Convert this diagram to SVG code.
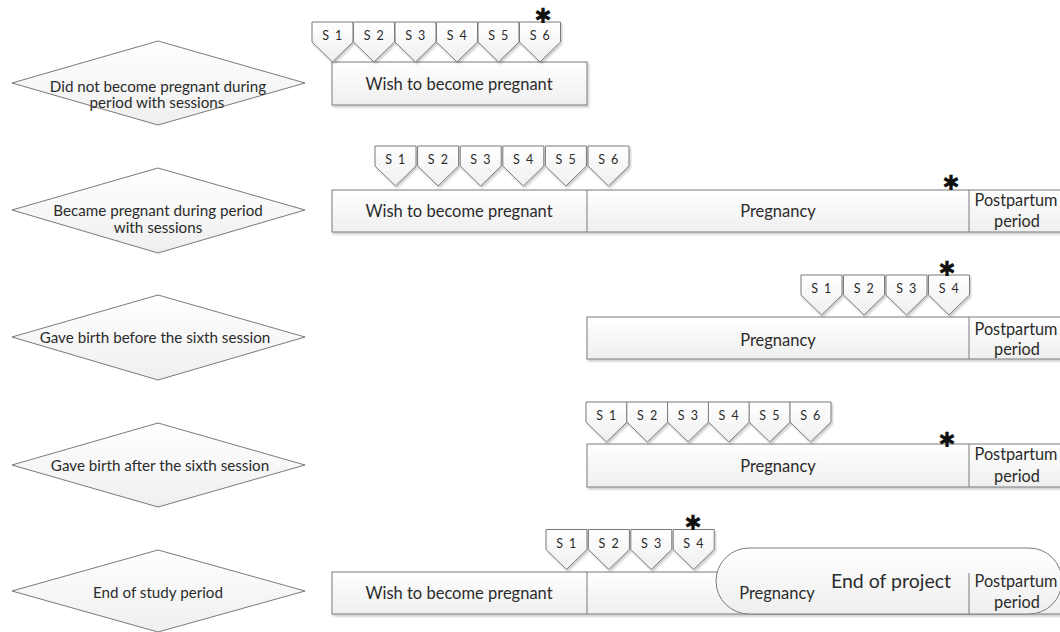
<svg xmlns="http://www.w3.org/2000/svg" xmlns:xlink="http://www.w3.org/1999/xlink" width="1060" height="632" viewBox="0 0 1060 632">
<defs>
<linearGradient id="g" x1="0" y1="0" x2="0" y2="1">
<stop offset="0" stop-color="#ffffff"/>
<stop offset="1" stop-color="#efefef"/>
</linearGradient>
<filter id="sh" x="-5%" y="-10%" width="110%" height="130%">
<feDropShadow dx="1.5" dy="2" stdDeviation="1.2" flood-color="#000" flood-opacity="0.2"/>
</filter>
<path id="pent" d="M0,0 H41 V20 L20.5,40 L0,20 Z"/>
</defs>
<style>
.sh{fill:url(#g);stroke:#7a7a7a;stroke-width:1}
.dv{stroke:#7a7a7a;stroke-width:1;fill:none}
.t{font-family:Lato,"Liberation Sans",sans-serif;fill:#2b2b2b;text-anchor:middle}
.d{font-size:15.2px}
.b{font-size:16.5px}
.p{font-size:16.3px}
.s{font-size:12.5px;letter-spacing:1.5px}
.e{font-size:19.5px}
.ast{font-family:"DejaVu Sans",sans-serif;font-size:21px;font-weight:bold;fill:#111;text-anchor:middle}
</style>
<rect width="1060" height="632" fill="#ffffff"/>

<!-- Row 1 -->
<g id="row1-label">
<polygon class="sh" points="12,83 158,41 305,83 158,125"/>
<text class="t d" x="158" y="92">Did not become pregnant during</text>
<text class="t d" x="157" y="108">period with sessions</text>
</g>
<g id="row1-wish">
<rect class="sh" x="332" y="62" width="255" height="43" filter="url(#sh)"/>
<text class="t b" x="459" y="89.5">Wish to become pregnant</text>
</g>
<g id="row1-sessions">
<use href="#pent" class="sh" x="312" y="22" filter="url(#sh)"/>
<use href="#pent" class="sh" x="353.5" y="22" filter="url(#sh)"/>
<use href="#pent" class="sh" x="395" y="22" filter="url(#sh)"/>
<use href="#pent" class="sh" x="436.5" y="22" filter="url(#sh)"/>
<use href="#pent" class="sh" x="478" y="22" filter="url(#sh)"/>
<use href="#pent" class="sh" x="519.5" y="22" filter="url(#sh)"/>
<text class="t s" x="333" y="40">S 1</text>
<text class="t s" x="374.5" y="40">S 2</text>
<text class="t s" x="416" y="40">S 3</text>
<text class="t s" x="457.5" y="40">S 4</text>
<text class="t s" x="499" y="40">S 5</text>
<text class="t s" x="540.5" y="40">S 6</text>
<text class="ast" x="543" y="23">✱</text>
</g>

<!-- Row 2 -->
<g id="row2-label">
<polygon class="sh" points="12,210 158,168 305,210 158,253"/>
<text class="t d" x="158" y="216">Became pregnant during period</text>
<text class="t d" x="158" y="233">with sessions</text>
</g>
<g id="row2-bar">
<rect class="sh" x="332" y="190" width="740" height="42" filter="url(#sh)"/>
<line class="dv" x1="587" y1="190" x2="587" y2="232"/>
<line class="dv" x1="969" y1="190" x2="969" y2="232"/>
<text class="t b" x="459" y="216.5">Wish to become pregnant</text>
<text class="t b" x="778" y="216.5">Pregnancy</text>
<text class="t p" x="1016" y="206">Postpartum</text>
<text class="t p" x="1017" y="227">period</text>
<text class="ast" x="951" y="190">✱</text>
</g>
<g id="row2-sessions">
<use href="#pent" class="sh" x="375" y="146" filter="url(#sh)"/>
<use href="#pent" class="sh" x="417.6" y="146" filter="url(#sh)"/>
<use href="#pent" class="sh" x="460.2" y="146" filter="url(#sh)"/>
<use href="#pent" class="sh" x="502.8" y="146" filter="url(#sh)"/>
<use href="#pent" class="sh" x="545.4" y="146" filter="url(#sh)"/>
<use href="#pent" class="sh" x="588" y="146" filter="url(#sh)"/>
<text class="t s" x="396" y="164">S 1</text>
<text class="t s" x="438.6" y="164">S 2</text>
<text class="t s" x="481.2" y="164">S 3</text>
<text class="t s" x="523.8" y="164">S 4</text>
<text class="t s" x="566.4" y="164">S 5</text>
<text class="t s" x="609" y="164">S 6</text>
</g>

<!-- Row 3 -->
<g id="row3-label">
<polygon class="sh" points="12,337 158,295 305,337 158,380"/>
<text class="t d" x="155" y="343">Gave birth before the sixth session</text>
</g>
<g id="row3-bar">
<rect class="sh" x="587" y="317" width="485" height="42" filter="url(#sh)"/>
<line class="dv" x1="969" y1="317" x2="969" y2="359"/>
<text class="t b" x="778" y="345.5">Pregnancy</text>
<text class="t p" x="1016" y="335">Postpartum</text>
<text class="t p" x="1017" y="355">period</text>
</g>
<g id="row3-sessions">
<use href="#pent" class="sh" x="801" y="275" filter="url(#sh)"/>
<use href="#pent" class="sh" x="843.5" y="275" filter="url(#sh)"/>
<use href="#pent" class="sh" x="886" y="275" filter="url(#sh)"/>
<use href="#pent" class="sh" x="928.5" y="275" filter="url(#sh)"/>
<text class="t s" x="822" y="293">S 1</text>
<text class="t s" x="864.5" y="293">S 2</text>
<text class="t s" x="907" y="293">S 3</text>
<text class="t s" x="949.5" y="293">S 4</text>
<text class="ast" x="947" y="276">✱</text>
</g>

<!-- Row 4 -->
<g id="row4-label">
<polygon class="sh" points="12,465 158,423 305,465 158,507"/>
<text class="t d" x="160" y="471">Gave birth after the sixth session</text>
</g>
<g id="row4-bar">
<rect class="sh" x="587" y="444" width="485" height="43" filter="url(#sh)"/>
<line class="dv" x1="969" y1="444" x2="969" y2="487"/>
<text class="t b" x="778" y="471.5">Pregnancy</text>
<text class="t p" x="1016" y="460">Postpartum</text>
<text class="t p" x="1017" y="482">period</text>
<text class="ast" x="947" y="447">✱</text>
</g>
<g id="row4-sessions">
<use href="#pent" class="sh" x="586" y="402" filter="url(#sh)"/>
<use href="#pent" class="sh" x="626.8" y="402" filter="url(#sh)"/>
<use href="#pent" class="sh" x="667.6" y="402" filter="url(#sh)"/>
<use href="#pent" class="sh" x="708.4" y="402" filter="url(#sh)"/>
<use href="#pent" class="sh" x="749.2" y="402" filter="url(#sh)"/>
<use href="#pent" class="sh" x="790" y="402" filter="url(#sh)"/>
<text class="t s" x="607" y="420">S 1</text>
<text class="t s" x="647.8" y="420">S 2</text>
<text class="t s" x="688.6" y="420">S 3</text>
<text class="t s" x="729.4" y="420">S 4</text>
<text class="t s" x="770.2" y="420">S 5</text>
<text class="t s" x="811" y="420">S 6</text>
</g>

<!-- Row 5 -->
<g id="row5-label">
<polygon class="sh" points="12,591 158,550 305,591 158,632"/>
<text class="t d" x="158" y="598">End of study period</text>
</g>
<g id="row5-bar">
<rect class="sh" x="332" y="572" width="740" height="42" filter="url(#sh)"/>
<line class="dv" x1="587" y1="572" x2="587" y2="614"/>
<text class="t b" x="459" y="598.5">Wish to become pregnant</text>
</g>
<g id="row5-end">
<rect class="sh" x="716" y="548" width="346" height="66" rx="33" ry="33"/>
<line class="dv" x1="969" y1="573" x2="969" y2="614"/>
<text class="t b" x="777" y="598.5">Pregnancy</text>
<text class="t e" x="891" y="588">End of project</text>
<text class="t p" x="1016" y="587">Postpartum</text>
<text class="t p" x="1017" y="608">period</text>
</g>
<g id="row5-sessions">
<use href="#pent" class="sh" x="546" y="529.5" filter="url(#sh)"/>
<use href="#pent" class="sh" x="588.4" y="529.5" filter="url(#sh)"/>
<use href="#pent" class="sh" x="630.8" y="529.5" filter="url(#sh)"/>
<use href="#pent" class="sh" x="673.2" y="529.5" filter="url(#sh)"/>
<text class="t s" x="567" y="548">S 1</text>
<text class="t s" x="609.4" y="548">S 2</text>
<text class="t s" x="651.8" y="548">S 3</text>
<text class="t s" x="694.2" y="548">S 4</text>
<text class="ast" x="693" y="530">✱</text>
</g>
<g id="connectors"></g>
</svg>
